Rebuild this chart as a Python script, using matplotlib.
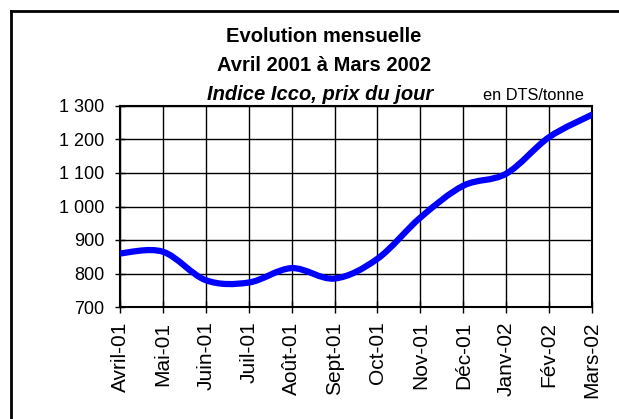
import numpy as np
import matplotlib.pyplot as plt
from matplotlib.path import Path
from matplotlib.patches import PathPatch
from matplotlib.lines import Line2D
from matplotlib.ticker import FuncFormatter

plt.rcParams['font.family'] = ['Liberation Sans', 'DejaVu Sans']

months = ['Avril-01', 'Mai-01', 'Juin-01', 'Juil-01', 'Août-01', 'Sept-01',
          'Oct-01', 'Nov-01', 'Déc-01', 'Janv-02', 'Fév-02', 'Mars-02']
prix = [860, 865, 780, 773, 816, 785, 844, 967, 1062, 1098, 1207, 1274]

fig = plt.figure(figsize=(6.19, 4.19), dpi=100)
ax = fig.add_axes([120 / 619, 1 - 307 / 419, 472 / 619, 201 / 419])

# smoothed line (Excel-like Catmull-Rom bezier)
x = np.arange(len(prix), dtype=float)
y = np.array(prix, dtype=float)
xp = np.concatenate([[x[0]], x, [x[-1]]])
yp = np.concatenate([[y[0]], y, [y[-1]]])
verts = [(x[0], y[0])]
codes = [Path.MOVETO]
for i in range(len(x) - 1):
    j = i + 1
    c1 = (x[i] + (xp[j + 1] - xp[j - 1]) / 6, y[i] + (yp[j + 1] - yp[j - 1]) / 6)
    c2 = (x[i + 1] - (xp[j + 2] - xp[j]) / 6, y[i + 1] - (yp[j + 2] - yp[j]) / 6)
    verts += [c1, c2, (x[i + 1], y[i + 1])]
    codes += [Path.CURVE4] * 3
ax.add_patch(PathPatch(Path(verts, codes), facecolor='none', edgecolor='#0000FF',
                       lw=4.5, capstyle='round', joinstyle='round', zorder=3))

ax.set_xlim(0, len(months) - 1)
ax.set_ylim(700, 1300)
ax.set_xticks(x)
ax.set_xticklabels(months, rotation=90, fontsize=15)
ax.set_yticks(range(700, 1301, 100))
ax.yaxis.set_major_formatter(FuncFormatter(lambda v, p: f'{int(v):,}'.replace(',', ' ')))
ax.tick_params(axis='y', labelsize=13, direction='inout', length=7, width=1, pad=8)
ax.tick_params(axis='x', direction='inout', length=9, width=1, pad=6)
ax.grid(True, color='black', lw=1)
ax.set_axisbelow(True)
for s in ax.spines.values():
    s.set_linewidth(1.5)

fig.text(324 / 619, 1 - 42.5 / 419, 'Evolution mensuelle', ha='center', va='baseline',
         fontsize=14.5, fontweight='bold')
fig.text(324 / 619, 1 - 71 / 419, 'Avril 2001 à Mars 2002', ha='center', va='baseline',
         fontsize=14.5, fontweight='bold')
fig.text(320 / 619, 1 - 100 / 419, 'Indice Icco, prix du jour', ha='center', va='baseline',
         fontsize=14.5, fontweight='bold', style='italic')
fig.text(533 / 619, 1 - 100 / 419, 'en DTS/tonne', ha='center', va='baseline', fontsize=11.8)

# outer frame (top and left only visible)
fig.add_artist(Line2D([11 / 619, 1], [1 - 11 / 419, 1 - 11 / 419], color='black', lw=2,
                      transform=fig.transFigure))
fig.add_artist(Line2D([11 / 619, 11 / 619], [0, 1 - 11 / 419], color='black', lw=2,
                      transform=fig.transFigure))

fig.savefig('out.png', dpi=100)
